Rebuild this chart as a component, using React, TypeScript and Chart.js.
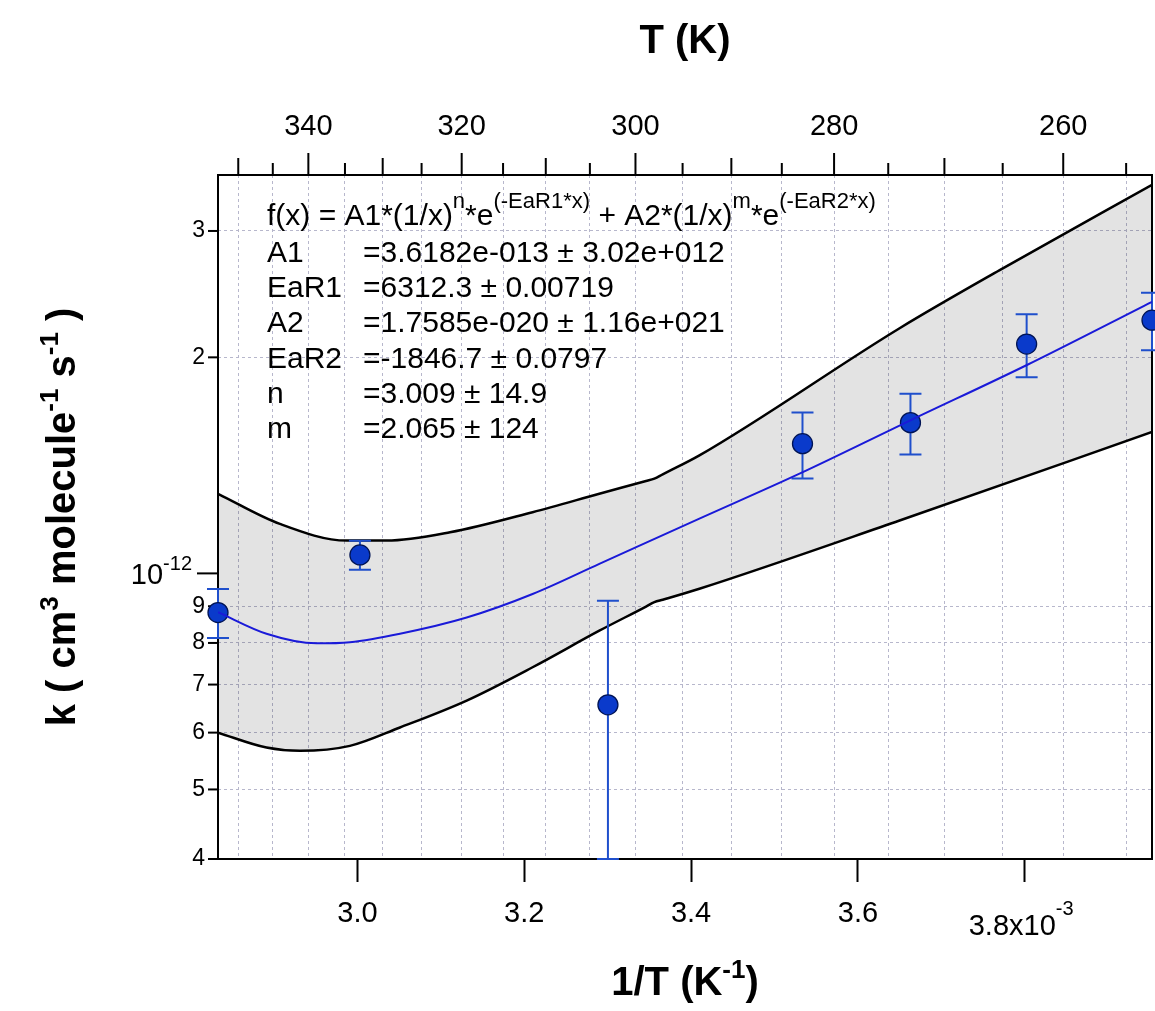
import React, { useEffect, useRef } from 'react';
import { Chart, registerables } from 'chart.js';

Chart.register(...registerables);

// ---------------- data ----------------
const temperaturesK = [353, 333, 303, 283, 273, 263, 253];
const rateConstants = [8.82e-13, 1.061e-12, 6.56e-13, 1.516e-12, 1.622e-12, 2.087e-12, 2.253e-12];
const rateErrors = [0.69e-13, 0.49e-13, 2.6e-13, 1.6e-13, 1.58e-13, 2.1e-13, 2.07e-13];

// fitted curve (x in 1e-3 K^-1)
const fitInvT = [2.8329, 2.891, 2.951, 2.991, 3.051, 3.131, 3.21, 3.29, 3.41, 3.53, 3.663, 3.802, 3.9526];
const fitK = [8.83e-13, 8.24e-13, 7.99e-13, 8.02e-13, 8.24e-13, 8.68e-13, 9.36e-13, 1.031e-12, 1.192e-12, 1.377e-12, 1.634e-12, 1.95e-12, 2.39e-12];

// confidence band
const upperInvT = [2.8329, 2.907, 2.987, 3.035, 3.111, 3.21, 3.29, 3.346, 3.356, 3.366, 3.41, 3.65, 3.77, 3.9526];
const upperK = [1.291e-12, 1.172e-12, 1.111e-12, 1.111e-12, 1.141e-12, 1.217e-12, 1.291e-12, 1.345e-12, 1.355e-12, 1.374e-12, 1.46e-12, 2.196e-12, 2.646e-12, 3.478e-12];
const lowerInvT = [2.8329, 2.891, 2.931, 2.991, 3.051, 3.131, 3.21, 3.29, 3.346, 3.356, 3.366, 3.41, 3.65, 3.9526];
const lowerK = [6.0e-13, 5.72e-13, 5.66e-13, 5.75e-13, 6.1e-13, 6.65e-13, 7.4e-13, 8.32e-13, 8.99e-13, 9.12e-13, 9.19e-13, 9.52e-13, 1.185e-12, 1.574e-12];

// axes
const bottomTicks = [3.0, 3.2, 3.4, 3.6, 3.8];
const bottomTickLabels = ['3.0', '3.2', '3.4', '3.6', ''];
const topTickTemps = [350, 345, 340, 335, 330, 325, 320, 315, 310, 305, 300, 295, 290, 285, 280, 275, 270, 265, 260, 255];
const topLabelTemps = [340, 320, 300, 280, 260];
const yTickValues = [4e-13, 5e-13, 6e-13, 7e-13, 8e-13, 9e-13, 1e-12, 2e-12, 3e-12];
const yTickLabels = ['4', '5', '6', '7', '8', '9', '', '2', '3'];

// fit report
const fitParamNames = ['A1', 'EaR1', 'A2', 'EaR2', 'n', 'm'];
const fitParamValues = [
  '=3.6182e-013 ± 3.02e+012',
  '=6312.3 ± 0.00719',
  '=1.7585e-020 ± 1.16e+021',
  '=-1846.7 ± 0.0797',
  '=3.009 ± 14.9',
  '=2.065 ± 124',
];

const FONT = '"Liberation Sans", Arial, Helvetica, sans-serif';
const GRID = '#b7b7cc';

type Seg = { t: string; sup?: boolean };

function segWidth(ctx: CanvasRenderingContext2D, segs: Seg[], base: number, sup: number, bold: boolean) {
  let w = 0;
  for (const s of segs) {
    ctx.font = `${bold ? 'bold ' : ''}${s.sup ? sup : base}px ${FONT}`;
    w += ctx.measureText(s.t).width;
  }
  return w;
}
function drawSegs(ctx: CanvasRenderingContext2D, segs: Seg[], x: number, y: number, base: number, sup: number, rise: number, bold: boolean) {
  let cx = x;
  ctx.textAlign = 'left';
  ctx.textBaseline = 'alphabetic';
  for (const s of segs) {
    ctx.font = `${bold ? 'bold ' : ''}${s.sup ? sup : base}px ${FONT}`;
    ctx.fillText(s.t, cx, s.sup ? y - rise : y);
    cx += ctx.measureText(s.t).width;
  }
}

const decorPlugin = {
  id: 'decor',
  beforeDatasetsDraw(chart: any) {
    const ctx: CanvasRenderingContext2D = chart.ctx;
    const a = chart.chartArea;
    const xTop = chart.scales.xTop;
    const y = chart.scales.y;
    ctx.save();
    ctx.strokeStyle = '#000';
    ctx.lineWidth = 2;
    ctx.strokeRect(a.left, a.top, a.right - a.left, a.bottom - a.top);
    // top ticks
    for (const T of topTickTemps) {
      const px = xTop.getPixelForValue(1000 / T);
      const len = T % 20 === 0 ? 22 : T % 10 === 0 ? 17 : 12;
      ctx.beginPath();
      ctx.moveTo(px, a.top);
      ctx.lineTo(px, a.top - len);
      ctx.stroke();
    }
    // y ticks
    for (const v of yTickValues) {
      const py = y.getPixelForValue(v);
      const len = Math.abs(v - 1e-12) < 1e-16 ? 21 : 10;
      ctx.beginPath();
      ctx.moveTo(a.left - len, py);
      ctx.lineTo(a.left, py);
      ctx.stroke();
    }
    ctx.restore();
  },
  beforeDatasetDraw(chart: any, args: any) {
    if (args.index !== 1) return;
    const ctx: CanvasRenderingContext2D = chart.ctx;
    const a = chart.chartArea;
    const x = chart.scales.x;
    const y = chart.scales.y;
    ctx.save();
    ctx.beginPath();
    ctx.rect(a.left - 15, a.top, a.right - a.left + 30, a.bottom - a.top + 1);
    ctx.clip();
    ctx.strokeStyle = '#1f4fcc';
    ctx.lineWidth = 2;
    temperaturesK.forEach((T, i) => {
      const px = x.getPixelForValue(1000 / T);
      const pTop = y.getPixelForValue(rateConstants[i] + rateErrors[i]);
      const pBot = Math.min(y.getPixelForValue(rateConstants[i] - rateErrors[i]), a.bottom);
      ctx.beginPath();
      ctx.moveTo(px, pTop);
      ctx.lineTo(px, pBot);
      ctx.moveTo(px - 11, pTop);
      ctx.lineTo(px + 11, pTop);
      ctx.moveTo(px - 11, pBot);
      ctx.lineTo(px + 11, pBot);
      ctx.stroke();
    });
    ctx.restore();
  },
  afterDraw(chart: any) {
    const ctx: CanvasRenderingContext2D = chart.ctx;
    const a = chart.chartArea;
    const x = chart.scales.x;
    const y = chart.scales.y;
    ctx.save();
    ctx.fillStyle = '#000';
    // 3.8x10^-3 label
    const p38 = x.getPixelForValue(3.8);
    drawSegs(ctx, [{ t: '3.8x10' }, { t: '-3', sup: true }], p38 - 56, 935, 29, 20, 20, false);
    // 10^-12 label
    const p12 = y.getPixelForValue(1e-12);
    ctx.font = `20px ${FONT}`;
    const wSup = ctx.measureText('-12').width;
    ctx.font = `29px ${FONT}`;
    const wBase = ctx.measureText('10').width;
    drawSegs(ctx, [{ t: '10' }, { t: '-12', sup: true }], a.left - 26 - wSup - wBase, p12 + 11, 29, 20, 14, false);

    // fit report text
    const tx = a.left + 49;
    drawSegs(
      ctx,
      [
        { t: 'f(x) = A1*(1/x)' }, { t: 'n', sup: true }, { t: '*e' }, { t: '(-EaR1*x)', sup: true },
        { t: ' + A2*(1/x)' }, { t: 'm', sup: true }, { t: '*e' }, { t: '(-EaR2*x)', sup: true },
      ],
      tx, a.top + 50, 30, 22, 17, false
    );
    ctx.font = `30px ${FONT}`;
    const spaceW = ctx.measureText(' ').width;
    fitParamNames.forEach((nm, i) => {
      const by = a.top + 87 + i * 35.2;
      ctx.font = `30px ${FONT}`;
      ctx.textAlign = 'left';
      ctx.fillText(nm, tx, by);
      const w = ctx.measureText(nm).width;
      const vx = Math.max(tx + 96, tx + w + spaceW);
      ctx.fillText(fitParamValues[i], vx, by);
    });

    // axis titles
    const cx = (a.left + a.right) / 2;
    const topSegs: Seg[] = [{ t: 'T (K)' }];
    drawSegs(ctx, topSegs, cx - segWidth(ctx, topSegs, 40, 26, true) / 2, 53, 40, 26, 16, true);
    const botSegs: Seg[] = [{ t: '1/T (K' }, { t: '-1', sup: true }, { t: ')' }];
    drawSegs(ctx, botSegs, cx - segWidth(ctx, botSegs, 40, 26, true) / 2, 995, 40, 26, 17, true);
    const leftSegs: Seg[] = [
      { t: 'k ( cm' }, { t: '3', sup: true }, { t: ' molecule' }, { t: '-1', sup: true },
      { t: ' s' }, { t: '-1', sup: true }, { t: ' )' },
    ];
    const cy = (a.top + a.bottom) / 2;
    const lw = segWidth(ctx, leftSegs, 40, 26, true);
    ctx.translate(75, cy + lw / 2);
    ctx.rotate(-Math.PI / 2);
    drawSegs(ctx, leftSegs, 0, 0, 40, 26, 17, true);
    ctx.restore();
  },
};

export default function App() {
  const ref = useRef<HTMLCanvasElement>(null);
  useEffect(() => {
    const xMin = 1000 / 353;
    const xMax = 1000 / 253;
    const chart = new Chart(ref.current as HTMLCanvasElement, {
      type: 'scatter',
      data: {
        datasets: [
          {
            type: 'line',
            label: 'fit',
            data: fitInvT.map((v, i) => ({ x: v, y: fitK[i] })),
            borderColor: '#1a1ad8',
            borderWidth: 2,
            pointRadius: 0,
            cubicInterpolationMode: 'monotone',
            fill: false,
            order: 0,
          } as any,
          {
            type: 'scatter',
            label: 'data',
            data: temperaturesK.map((T, i) => ({ x: 1000 / T, y: rateConstants[i] })),
            pointRadius: 10,
            pointHoverRadius: 10,
            pointBackgroundColor: '#0a3acb',
            pointBorderColor: '#001455',
            pointBorderWidth: 1.3,
            clip: false,
            order: 1,
          } as any,
          {
            type: 'line',
            label: 'upper',
            data: upperInvT.map((v, i) => ({ x: v, y: upperK[i] })),
            borderColor: '#000',
            borderWidth: 2.5,
            pointRadius: 0,
            cubicInterpolationMode: 'monotone',
            fill: 3,
            backgroundColor: 'rgba(0,0,0,0.11)',
            order: 2,
          } as any,
          {
            type: 'line',
            label: 'lower',
            data: lowerInvT.map((v, i) => ({ x: v, y: lowerK[i] })),
            borderColor: '#000',
            borderWidth: 2.5,
            pointRadius: 0,
            cubicInterpolationMode: 'monotone',
            fill: false,
            order: 3,
          } as any,
        ],
      },
      options: {
        animation: false,
        responsive: false,
        devicePixelRatio: 1,
        layout: { autoPadding: false, padding: { left: 0, right: 3, top: 0, bottom: 0 } },
        plugins: {
          legend: { display: false },
          tooltip: { enabled: false },
          filler: { drawTime: 'beforeDatasetsDraw' },
        } as any,
        scales: {
          x: {
            type: 'linear',
            position: 'bottom',
            min: xMin,
            max: xMax,
            afterBuildTicks: (s: any) => {
              s.ticks = bottomTicks.map((v) => ({ value: v }));
            },
            afterFit: (s: any) => {
              s.height = 152;
              s.paddingLeft = 0;
              s.paddingRight = 0;
            },
            ticks: {
              autoSkip: false,
              maxRotation: 0,
              minRotation: 0,
              padding: 15,
              color: '#000',
              font: { family: FONT, size: 29 },
              callback: (v: any) => {
                const i = bottomTicks.findIndex((t) => Math.abs(t - v) < 1e-6);
                return i >= 0 ? bottomTickLabels[i] : '';
              },
            },
            grid: { drawOnChartArea: false, drawTicks: true, tickLength: 23, tickColor: '#000', tickWidth: 2 },
            border: { display: false },
          },
          xTop: {
            type: 'linear',
            position: 'top',
            min: xMin,
            max: xMax,
            afterBuildTicks: (s: any) => {
              s.ticks = topTickTemps.map((T) => ({ value: 1000 / T }));
            },
            afterFit: (s: any) => {
              s.height = 175;
              s.paddingLeft = 0;
              s.paddingRight = 0;
            },
            ticks: {
              autoSkip: false,
              maxRotation: 0,
              minRotation: 0,
              padding: 31,
              color: '#000',
              font: { family: FONT, size: 29 },
              callback: (v: any) => {
                const T = Math.round(1000 / v);
                return topLabelTemps.includes(T) ? String(T) : '';
              },
            },
            grid: { drawOnChartArea: true, drawTicks: false, color: GRID, lineWidth: 1 },
            border: { display: false, dash: [3, 3] },
          },
          y: {
            type: 'logarithmic',
            position: 'left',
            min: 4e-13,
            max: 3.59e-12,
            afterBuildTicks: (s: any) => {
              s.ticks = yTickValues.map((v) => ({ value: v }));
            },
            afterFit: (s: any) => {
              s.width = 218;
            },
            ticks: {
              autoSkip: false,
              padding: 13,
              color: '#000',
              font: { family: FONT, size: 23 },
              callback: (v: any) => {
                const i = yTickValues.findIndex((t) => Math.abs(t - v) / t < 1e-6);
                return i >= 0 ? yTickLabels[i] : '';
              },
            },
            grid: {
              drawOnChartArea: true,
              drawTicks: false,
              lineWidth: 1,
              color: (c: any) =>
                c.tick && Math.abs(c.tick.value - 1e-12) / 1e-12 < 1e-6 ? 'rgba(0,0,0,0)' : GRID,
            },
            border: { display: false, dash: [3, 3] },
          },
        },
      } as any,
      plugins: [decorPlugin as any],
    });
    return () => chart.destroy();
  }, []);
  return (
    <div style={{ position: 'absolute', left: 0, top: 0, width: 1155, height: 1011, background: '#fff' }}>
      <canvas ref={ref} width={1155} height={1011} style={{ display: 'block', width: 1155, height: 1011 }} />
    </div>
  );
}
